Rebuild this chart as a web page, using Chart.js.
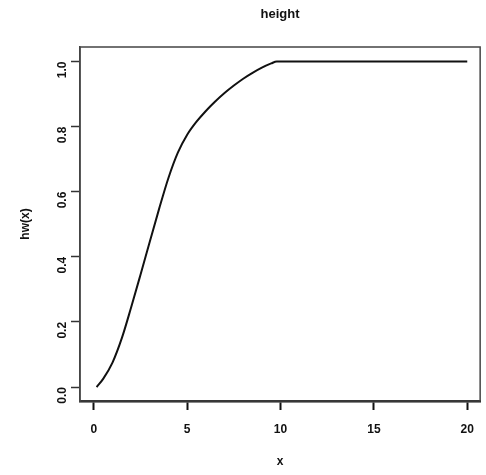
<!DOCTYPE html>
<html>
<head>
<meta charset="utf-8">
<script src="https://cdn.jsdelivr.net/npm/chart.js@4"></script>
<style>
html,body{margin:0;padding:0;background:#fff;}
#wrap{width:486px;height:475px;}
</style>
</head>
<body>
<div id="wrap"><canvas id="c" width="486" height="475"></canvas></div>
<script>
const titleText = "height";
const xLabel = "x";
const yLabel = "hw(x)";
const xTicks = [0, 5, 10, 15, 20];
const yTicks = [0.0, 0.2, 0.4, 0.6, 0.8, 1.0];
const xs = [0.15, 0.5, 1.0, 1.5, 2.0, 2.5, 3.0, 3.5, 4.0, 4.5, 5.0, 5.5, 6.0, 6.5, 7.0, 7.5, 8.0, 8.5, 9.0, 9.5, 9.8, 20];
const ys = [0.0, 0.025, 0.075, 0.15, 0.245, 0.345, 0.447, 0.548, 0.643, 0.72, 0.775, 0.815, 0.848, 0.877, 0.903, 0.926, 0.947, 0.965, 0.981, 0.994, 1.0, 1.0];

const pts = xs.map((x, i) => ({x: x, y: ys[i]}));
const FONT = "'Liberation Sans', Arial, sans-serif";

const boxPlugin = {
  id: 'box',
  afterDraw(chart) {
    const a = chart.chartArea, ctx = chart.ctx;
    ctx.save();
    ctx.strokeStyle = '#444';
    ctx.lineWidth = 1.5;
    ctx.strokeRect(a.left, a.top, a.right - a.left, a.bottom - a.top);
    ctx.fillStyle = '#111';
    ctx.font = "bold 13px " + FONT;
    ctx.textAlign = 'center';
    ctx.textBaseline = 'middle';
    ctx.fillText(titleText, (a.left + a.right) / 2, 14);
    ctx.restore();
  }
};

new Chart(document.getElementById('c'), {
  type: 'scatter',
  data: {
    datasets: [{
      data: pts,
      showLine: true,
      borderColor: '#111',
      borderWidth: 2,
      pointRadius: 0,
      cubicInterpolationMode: 'monotone',
      fill: false
    }]
  },
  options: {
    responsive: false,
    animation: false,
    devicePixelRatio: 1,
    layout: {padding: {left: 0, right: 2, top: 47, bottom: 0}},
    plugins: {
      legend: {display: false},
      tooltip: {enabled: false},
      title: {display: false}
    },
    scales: {
      x: {
        type: 'linear',
        min: -0.74,
        max: 20.69,
        afterBuildTicks: s => { s.ticks = xTicks.map(v => ({value: v})); },
        afterFit: s => { s.height = 74; },
        grid: {display: true, drawOnChartArea: false, drawTicks: true, tickLength: 9, color: '#111', tickWidth: 2},
        border: {display: true, color: '#111', width: 2.5},
        ticks: {color: '#111', font: {family: FONT, size: 12, weight: 'bold'}, padding: 12, maxRotation: 0, minRotation: 0,
          callback: v => String(v)},
        title: {display: true, text: xLabel, color: '#111', font: {family: FONT, size: 12, weight: 'bold'}, padding: {top: 0, bottom: 6}}
      },
      y: {
        type: 'linear',
        min: -0.043,
        max: 1.0445,
        afterBuildTicks: s => { s.ticks = yTicks.map(v => ({value: v})); },
        afterFit: s => { s.width = 80; },
        grid: {display: true, drawOnChartArea: false, drawTicks: true, tickLength: 9, color: '#333', tickWidth: 1.5},
        border: {display: true, color: '#444', width: 1.5},
        ticks: {color: '#111', font: {family: FONT, size: 12, weight: 'bold'}, padding: 8, minRotation: 90, maxRotation: 90,
          callback: v => v.toFixed(1)},
        title: {display: true, text: yLabel, color: '#111', font: {family: FONT, size: 12, weight: 'bold'}, padding: {top: 18, bottom: 0}}
      }
    }
  },
  plugins: [boxPlugin]
});
</script>
</body>
</html>
